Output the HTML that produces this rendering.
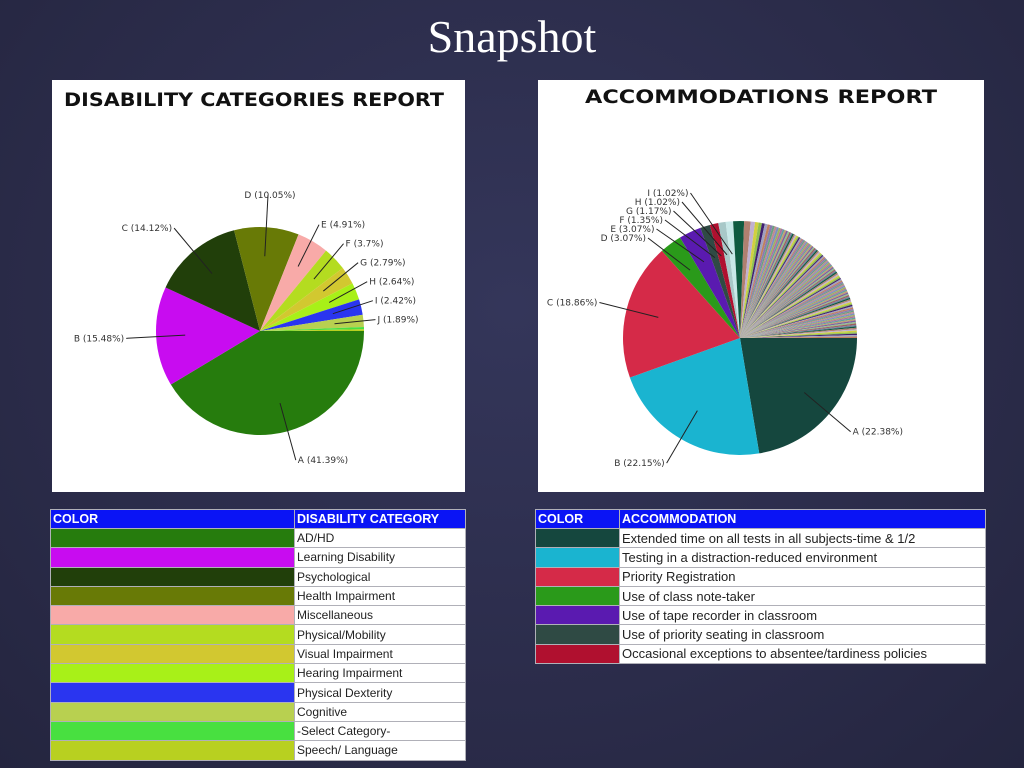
<!DOCTYPE html>
<html><head><meta charset="utf-8"><style>
html,body{margin:0;padding:0}
body{width:1024px;height:768px;position:relative;overflow:hidden;background:radial-gradient(ellipse at 50% 40%,#34365a 0%,#2b2c4a 60%,#24253f 100%);font-family:"Liberation Sans",sans-serif}
.title{position:absolute;left:0;width:1024px;top:10px;text-align:center;color:#fff;font-family:"Liberation Serif",serif;font-size:46px}
.panel{position:absolute;background:#fff}
table{position:absolute;border-collapse:collapse;font-family:"Liberation Sans",sans-serif;font-size:12px}
td{height:18.3px;padding:0 2px;border:1px solid #b0b0b8;white-space:nowrap;color:#222;background:#fff}
th{height:18px;background:#0a14f5;color:#fff;text-align:left;padding:0 2px;font-size:12.5px;border:1px solid #b0b0b8}
svg text{font-family:"DejaVu Sans",sans-serif}
</style></head><body>
<div class="title">Snapshot</div>
<div class="panel" style="left:52px;top:80px;width:413px;height:412px"></div>
<div class="panel" style="left:538px;top:80px;width:446px;height:412px"></div>
<svg id="chart" width="1024" height="768" style="position:absolute;left:0;top:0">
<text x="254" y="106" text-anchor="middle" font-size="19" font-weight="bold" fill="#111" textLength="380" lengthAdjust="spacingAndGlyphs">DISABILITY CATEGORIES REPORT</text>
<text x="761" y="103" text-anchor="middle" font-size="19" font-weight="bold" fill="#111" textLength="352" lengthAdjust="spacingAndGlyphs">ACCOMMODATIONS REPORT</text>
<g id="pie1"></g>
<g id="pie2"></g>
</svg>
<table style="left:50px;top:509px;width:416px">
<tr><th style="width:239px">COLOR</th><th>DISABILITY CATEGORY</th></tr>
<tr><td style="background:#267c0d"></td><td>AD/HD</td></tr>
<tr><td style="background:#c80cf0"></td><td>Learning Disability</td></tr>
<tr><td style="background:#213f0a"></td><td>Psychological</td></tr>
<tr><td style="background:#687a06"></td><td>Health Impairment</td></tr>
<tr><td style="background:#f8aaa8"></td><td>Miscellaneous</td></tr>
<tr><td style="background:#b4dc20"></td><td>Physical/Mobility</td></tr>
<tr><td style="background:#d2c830"></td><td>Visual Impairment</td></tr>
<tr><td style="background:#a8f018"></td><td>Hearing Impairment</td></tr>
<tr><td style="background:#2a35f0"></td><td>Physical Dexterity</td></tr>
<tr><td style="background:#b8d050"></td><td>Cognitive</td></tr>
<tr><td style="background:#48e040"></td><td>-Select Category-</td></tr>
<tr><td style="background:#b8d020"></td><td>Speech/ Language</td></tr>
</table>
<table style="left:535px;top:509px;width:451px;font-size:13px">
<tr><th style="width:79px">COLOR</th><th>ACCOMMODATION</th></tr>
<tr><td style="background:#15473e"></td><td>Extended time on all tests in all subjects-time &amp; 1/2</td></tr>
<tr><td style="background:#1ab4d0"></td><td>Testing in a distraction-reduced environment</td></tr>
<tr><td style="background:#d52a48"></td><td>Priority Registration</td></tr>
<tr><td style="background:#2a9a1a"></td><td>Use of class note-taker</td></tr>
<tr><td style="background:#5a1ab0"></td><td>Use of tape recorder in classroom</td></tr>
<tr><td style="background:#2f4a44"></td><td>Use of priority seating in classroom</td></tr>
<tr><td style="background:#b0102f"></td><td>Occasional exceptions to absentee/tardiness policies</td></tr>
</table>
<script>
const cats1 = ['A','B','C','D','E','F','G','H','I','J','K','L'];
const vals1 = [41.39,15.48,14.12,10.05,4.91,3.7,2.79,2.64,2.42,1.89,0.35,0.26];
const labels1 = ['A (41.39%)','B (15.48%)','C (14.12%)','D (10.05%)','E (4.91%)','F (3.7%)','G (2.79%)','H (2.64%)','I (2.42%)','J (1.89%)','',''];
const colors1 = ['#267c0d','#c80cf0','#213f0a','#687a06','#f8aaa8','#b4dc20','#d2c830','#a8f018','#2a35f0','#b8d050','#48e040','#b8d020'];

const vals2Main = [22.38,22.15,18.86,3.07,3.07,1.35,1.17,1.02,1.02];
const labels2 = ['A (22.38%)','B (22.15%)','C (18.86%)','D (3.07%)','E (3.07%)','F (1.35%)','G (1.17%)','H (1.02%)','I (1.02%)'];
const colors2Main = ['#15473e','#1ab4d0','#d52a48','#2a9a1a','#5a1ab0','#2f4a44','#b0102f','#a8c8c8','#c8e8e8'];
const vals2Small = [1.5,0.9,0.6,0.5,0.45,0.4,0.4,0.35,0.35,0.3,0.3,0.3,0.28,0.28,0.26,0.25,0.25,0.24,0.22,0.22,
0.22,0.18,0.2,0.21,0.19,0.2,0.23,0.17,0.2,0.2,0.2,
0.19,0.21,0.2,0.18,0.22,0.2,0.2,0.21,0.19,0.2,0.2,
0.2,0.2,0.23,0.17,0.2,0.19,0.21,0.2,0.2,0.18,0.22,
0.21,0.19,0.2,0.2,0.22,0.18,0.2,0.2,0.21,0.19,0.2,
0.2,0.18,0.22,0.2,0.2,0.19,0.21,0.2,0.23,0.17,0.2,
0.22,0.2,0.18,0.2,0.21,0.2,0.19,0.2,0.2,0.2,0.2,
0.19,0.2,0.21,0.2,0.2,0.22,0.18,0.2,0.2,0.19,0.21,
0.2,0.21,0.2,0.19,0.2,0.18,0.22,0.2,0.2,0.2,0.2];
const palette2 = ['#0e5a40','#b08070','#c0b0d0','#d0d040','#90c050','#402070','#a0a0c0','#c08060','#8a7ab0','#6aa080','#c08a90','#7a90c0','#a0b060','#b070a0','#60a0a0','#c0a070','#8060a0','#90c090','#a06060','#7080a0'];

const NS='http://www.w3.org/2000/svg';
function mk(tag,attrs,parent){const e=document.createElementNS(NS,tag);for(const k in attrs)e.setAttribute(k,attrs[k]);parent.appendChild(e);return e;}
function pt(cx,cy,r,a){return [cx+r*Math.cos(a),cy+r*Math.sin(a)];}
function drawPie(g,vals,colors,cx,cy,r,name){
  const tot=vals.reduce((a,b)=>a+b,0);let a0=0;const mids=[];
  vals.forEach((v,i)=>{
    const a1=a0+v/tot*2*Math.PI;
    const p0=pt(cx,cy,r,a0),p1=pt(cx,cy,r,a1);
    const large=(a1-a0)>Math.PI?1:0;
    const p=mk('path',{d:`M${cx},${cy}L${p0[0]},${p0[1]}A${r},${r} 0 ${large} 1 ${p1[0]},${p1[1]}Z`,fill:colors[i%colors.length]},g);
    
    
    mids.push((a0+a1)/2);a0=a1;
  });
  return mids;
}
function label(g,cx,cy,r,a,txt,lx,ly,anchor){
  const p=pt(cx,cy,r*0.72,a);
  const l=mk('line',{x1:p[0],y1:p[1],x2:lx,y2:ly,stroke:'#222','stroke-width':1},g);
  
  
  const t=mk('text',{x:anchor==='end'?lx-2:lx+2,y:ly+3,'font-size':9,fill:'#333','text-anchor':anchor},g);
  t.textContent=txt;
  
  
}
// Pie 1
const g1=document.getElementById('pie1');
const c1=[260,331],r1=104;
const m1=drawPie(g1,vals1,colors1,c1[0],c1[1],r1,'disability');
m1.forEach((a,i)=>{
  if(!labels1[i]||i>=4)return;
  let q=pt(c1[0],c1[1],r1+30,a);
  let anchor=Math.cos(a)>=0?'start':'end';
  if(i===3){q=[c1[0]+8,c1[1]-r1-32];anchor='middle';}
  label(g1,c1[0],c1[1],r1,a,labels1[i],q[0],q[1],anchor);
});
// right-side small labels stacked upward from J
let prevY=1e9;
for(let i=9;i>=4;i--){
  const a=m1[i];
  const q=pt(c1[0],c1[1],r1+12,a);
  if(q[1]>prevY-19)q[1]=prevY-19;
  prevY=q[1];
  label(g1,c1[0],c1[1],r1,a,labels1[i],q[0],q[1],'start');
}
// Pie 2
const g2=document.getElementById('pie2');
const c2=[740,338],r2=117;
const vals2=vals2Main.concat(vals2Small);
const colors2=colors2Main.concat(vals2Small.map((v,i)=>palette2[i%palette2.length]));
const m2=drawPie(g2,vals2,colors2,c2[0],c2[1],r2,'accommodation');
labels2.forEach((txt,i)=>{
  const a=m2[i];let q,anchor;
  if(i<3){q=pt(c2[0],c2[1],r2+28,a);anchor=Math.cos(a)>=0?'start':'end';}
  else{q=[c2[0]-92+(i-3)*8.5,c2[1]-100-(i-3)*9];anchor='end';}
  label(g2,c2[0],c2[1],r2,a,txt,q[0],q[1],anchor);
});
</script>
</body></html>
